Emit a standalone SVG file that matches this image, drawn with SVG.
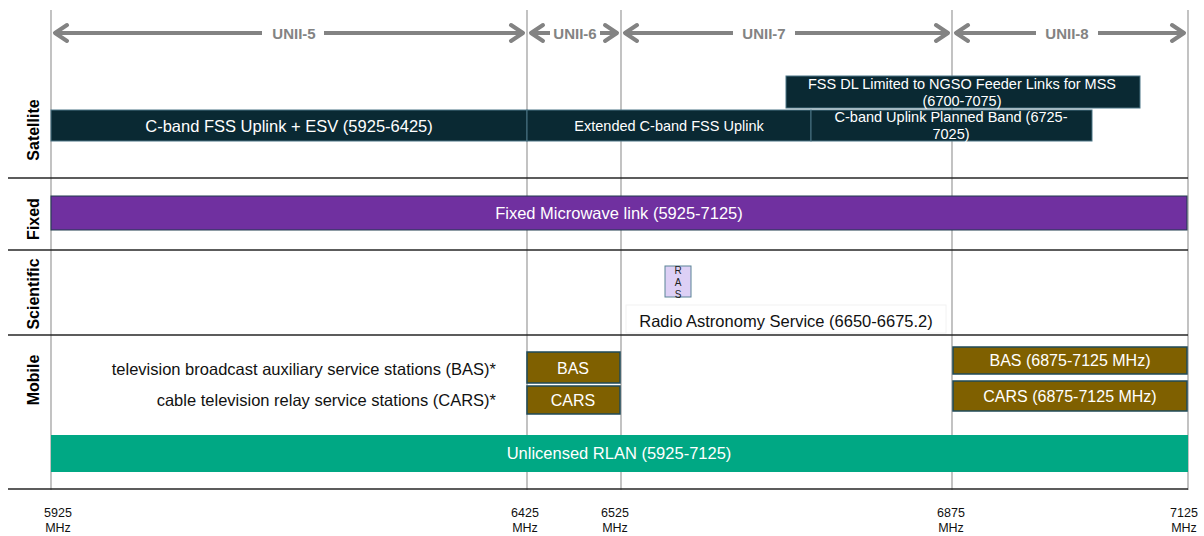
<svg xmlns="http://www.w3.org/2000/svg" width="1204" height="536" viewBox="0 0 1204 536">
<defs>
<style>
text{font-family:"Liberation Sans",Arial,sans-serif;}
.vl{stroke:#9a9a9a;stroke-width:1.2;}
.hl{stroke:#262626;stroke-width:1.6;}
.arr{stroke:#838383;stroke-width:4;fill:none;stroke-linecap:round;stroke-linejoin:round;}
.unii{font-size:15px;font-weight:bold;fill:#838383;text-anchor:middle;}
.row{font-size:16px;font-weight:bold;fill:#000;text-anchor:middle;}
.sat{fill:#0a2933;stroke:#4a7585;stroke-width:1;}
.wt{fill:#fff;text-anchor:middle;}
.olive{fill:#7f6000;stroke:#1f4a58;stroke-width:1.5;}
.ax{font-size:12.5px;fill:#111;text-anchor:middle;}
.mt{font-size:16.5px;fill:#111;text-anchor:end;}
</style>
</defs>
<g id="grid">
<line class="vl" x1="51" y1="10" x2="51" y2="490"/>
<line class="vl" x1="527" y1="10" x2="527" y2="490"/>
<line class="vl" x1="621" y1="10" x2="621" y2="490"/>
<line class="vl" x1="952" y1="10" x2="952" y2="490"/>
<line class="vl" x1="1188" y1="10" x2="1188" y2="490"/>
<line class="hl" x1="8" y1="178" x2="1188" y2="178"/>
<line class="hl" x1="8" y1="250" x2="1188" y2="250"/>
<line class="hl" x1="8" y1="335" x2="1188" y2="335"/>
<line class="hl" x1="8" y1="489" x2="1188" y2="489"/>
</g>
<g id="connectors">
<path class="arr" d="M55 33H523M67 25L55 33L67 41M511 25L523 33L511 41"/>
<path class="arr" d="M531 33H617M543 25L531 33L543 41M605 25L617 33L605 41"/>
<path class="arr" d="M625 33H948M637 25L625 33L637 41M936 25L948 33L936 41"/>
<path class="arr" d="M956 33H1184M968 25L956 33L968 41M1172 25L1184 33L1172 41"/>
</g>
<g id="unii-labels">
<rect x="262" y="23" width="62" height="20" fill="#fff"/>
<text class="unii" x="294" y="39">UNII-5</text>
<rect x="550" y="23" width="50" height="20" fill="#fff"/>
<text class="unii" x="575" y="39">UNII-6</text>
<rect x="733" y="23" width="62" height="20" fill="#fff"/>
<text class="unii" x="764" y="39">UNII-7</text>
<rect x="1036" y="23" width="62" height="20" fill="#fff"/>
<text class="unii" x="1067" y="39">UNII-8</text>
</g>
<g id="row-labels">
<text class="row" transform="translate(39 130) rotate(-90)">Satellite</text>
<text class="row" transform="translate(39 219) rotate(-90)">Fixed</text>
<text class="row" transform="translate(39 294) rotate(-90)">Scientific</text>
<text class="row" transform="translate(39 380) rotate(-90)">Mobile</text>
</g>
<g id="cband-fss">
<rect class="sat" x="51" y="110" width="476" height="31"/>
<text class="wt" x="289" y="132" font-size="16.5">C-band FSS Uplink + ESV (5925-6425)</text>
</g>
<g id="extended-cband">
<rect class="sat" x="527" y="110" width="284" height="31"/>
<text class="wt" x="669" y="131" font-size="14.5">Extended C-band FSS Uplink</text>
</g>
<g id="cband-planned">
<rect class="sat" x="811" y="110" width="281" height="31" stroke="#cfd8dc"/>
<text class="wt" x="951" y="122" font-size="14.5">C-band Uplink Planned Band (6725-</text>
<text class="wt" x="951" y="139" font-size="14.5">7025)</text>
</g>
<g id="fss-dl">
<rect class="sat" x="786" y="76" width="354" height="32"/>
<text class="wt" x="962" y="89" font-size="14.5">FSS DL Limited to NGSO Feeder Links for MSS</text>
<text class="wt" x="962" y="106" font-size="14.5">(6700-7075)</text>
</g>
<g id="fixed-microwave">
<rect x="51" y="196" width="1136" height="34" fill="#7030a0" stroke="#1f3b4d" stroke-width="1"/>
<text class="wt" x="619" y="219" font-size="16.5">Fixed Microwave link (5925-7125)</text>
</g>
<g id="ras">
<rect x="665" y="266" width="26" height="31" fill="#ddd0f5" stroke="#5a8396" stroke-width="1"/>
<text x="678" y="274" font-size="10" fill="#222" text-anchor="middle">R</text>
<text x="678" y="286" font-size="10" fill="#222" text-anchor="middle">A</text>
<text x="678" y="298" font-size="10" fill="#222" text-anchor="middle">S</text>
</g>
<g id="ras-label">
<rect x="626" y="305" width="320" height="28" fill="#fff" stroke="#f2f2f2" stroke-width="1"/>
<text x="786" y="327" font-size="16.5" fill="#111" text-anchor="middle">Radio Astronomy Service (6650-6675.2)</text>
</g>
<g id="mobile-text">
<text class="mt" x="496" y="375">television broadcast auxiliary service stations (BAS)*</text>
<text class="mt" x="496" y="406">cable television relay service stations (CARS)*</text>
</g>
<g id="bas-left">
<rect class="olive" x="527" y="352" width="93" height="31"/>
<text class="wt" x="573" y="374" font-size="16">BAS</text>
</g>
<g id="cars-left">
<rect class="olive" x="527" y="386" width="93" height="28"/>
<text class="wt" x="573" y="406" font-size="16">CARS</text>
</g>
<g id="bas-right">
<rect class="olive" x="953" y="347" width="234" height="27"/>
<text class="wt" x="1070" y="366" font-size="16">BAS (6875-7125 MHz)</text>
</g>
<g id="cars-right">
<rect class="olive" x="953" y="381" width="234" height="30"/>
<text class="wt" x="1070" y="402" font-size="16">CARS (6875-7125 MHz)</text>
</g>
<g id="rlan">
<rect x="51" y="435" width="1137" height="37" fill="#00a884"/>
<text class="wt" x="619" y="459" font-size="16.5">Unlicensed RLAN (5925-7125)</text>
</g>
<g id="axis">
<text class="ax" x="58" y="517">5925</text><text class="ax" x="58" y="532">MHz</text>
<text class="ax" x="525" y="517">6425</text><text class="ax" x="525" y="532">MHz</text>
<text class="ax" x="615" y="517">6525</text><text class="ax" x="615" y="532">MHz</text>
<text class="ax" x="951" y="517">6875</text><text class="ax" x="951" y="532">MHz</text>
<text class="ax" x="1184" y="517">7125</text><text class="ax" x="1184" y="532">MHz</text>
</g>
</svg>
